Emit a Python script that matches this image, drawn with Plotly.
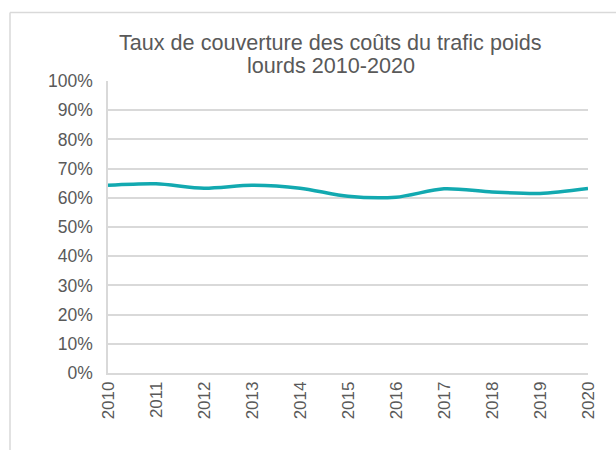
import plotly.graph_objects as go

years = [2010, 2011, 2012, 2013, 2014, 2015, 2016, 2017, 2018, 2019, 2020]
coverage = [0.643, 0.648, 0.633, 0.643, 0.633, 0.605, 0.602, 0.631, 0.620, 0.615, 0.632]
y_ticks = [i / 10 for i in range(11)]
y_labels = [f"{i * 10}%" for i in range(11)]
title_lines = ["Taux de couverture des coûts du trafic poids", "lourds 2010-2020"]

W, H = 616, 450
L, R, T, B = 108, 28, 81, 77
pw, ph = W - L - R, H - T - B

def px_x(x):
    return (x - L) / pw

def px_y(y):
    return 1 - (y - T) / ph

fig = go.Figure()
fig.add_trace(go.Scatter(
    x=years, y=coverage, mode="lines",
    line=dict(color="#12A9B0", width=3.5, shape="spline", smoothing=0.8),
    cliponaxis=False, hoverinfo="skip", showlegend=False,
))

grey = "#595959"
font_family = "Liberation Sans, Arial, sans-serif"

# outer frame of the chart area (only top and left edges are visible)
frame = dict(color="#D9D9D9", width=1.5)
fig.add_shape(type="line", xref="paper", yref="paper",
              x0=px_x(10), x1=px_x(640), y0=px_y(12.5), y1=px_y(12.5), line=frame)
fig.add_shape(type="line", xref="paper", yref="paper",
              x0=px_x(10), x1=px_x(10), y0=px_y(12.5), y1=px_y(470), line=frame)

# title (two lines, tight Excel-like spacing)
for txt, yc in zip(title_lines, [43, 66]):
    fig.add_annotation(text=txt, xref="paper", yref="paper",
                       x=px_x(330.5), y=px_y(yc), xanchor="center", yanchor="middle",
                       showarrow=False,
                       font=dict(family=font_family, size=21.6, color=grey))

fig.update_layout(
    width=W, height=H,
    margin=dict(l=L, r=R, t=T, b=B),
    paper_bgcolor="white", plot_bgcolor="white",
    font=dict(family=font_family, color=grey, size=17),
    xaxis=dict(range=[2010, 2020], tickmode="array", tickvals=years,
               ticktext=[str(y) for y in years], tickangle=-90,
               showgrid=False, zeroline=False, showline=True,
               linecolor="#D9D9D9", linewidth=1.5, ticks="",
               tickfont=dict(size=17, color=grey)),
    yaxis=dict(range=[0, 1], tickmode="array", tickvals=y_ticks, ticktext=y_labels,
               showgrid=True, gridcolor="#D9D9D9", gridwidth=1.5,
               zeroline=False, showline=True, linecolor="#D9D9D9", linewidth=1.5,
               ticks="", ticklabelstandoff=10,
               tickfont=dict(size=17.5, color=grey)),
)

fig.write_html("out.html", config={"displayModeBar": False},
               post_script="document.body.style.margin='0';document.body.style.overflow='hidden';")
